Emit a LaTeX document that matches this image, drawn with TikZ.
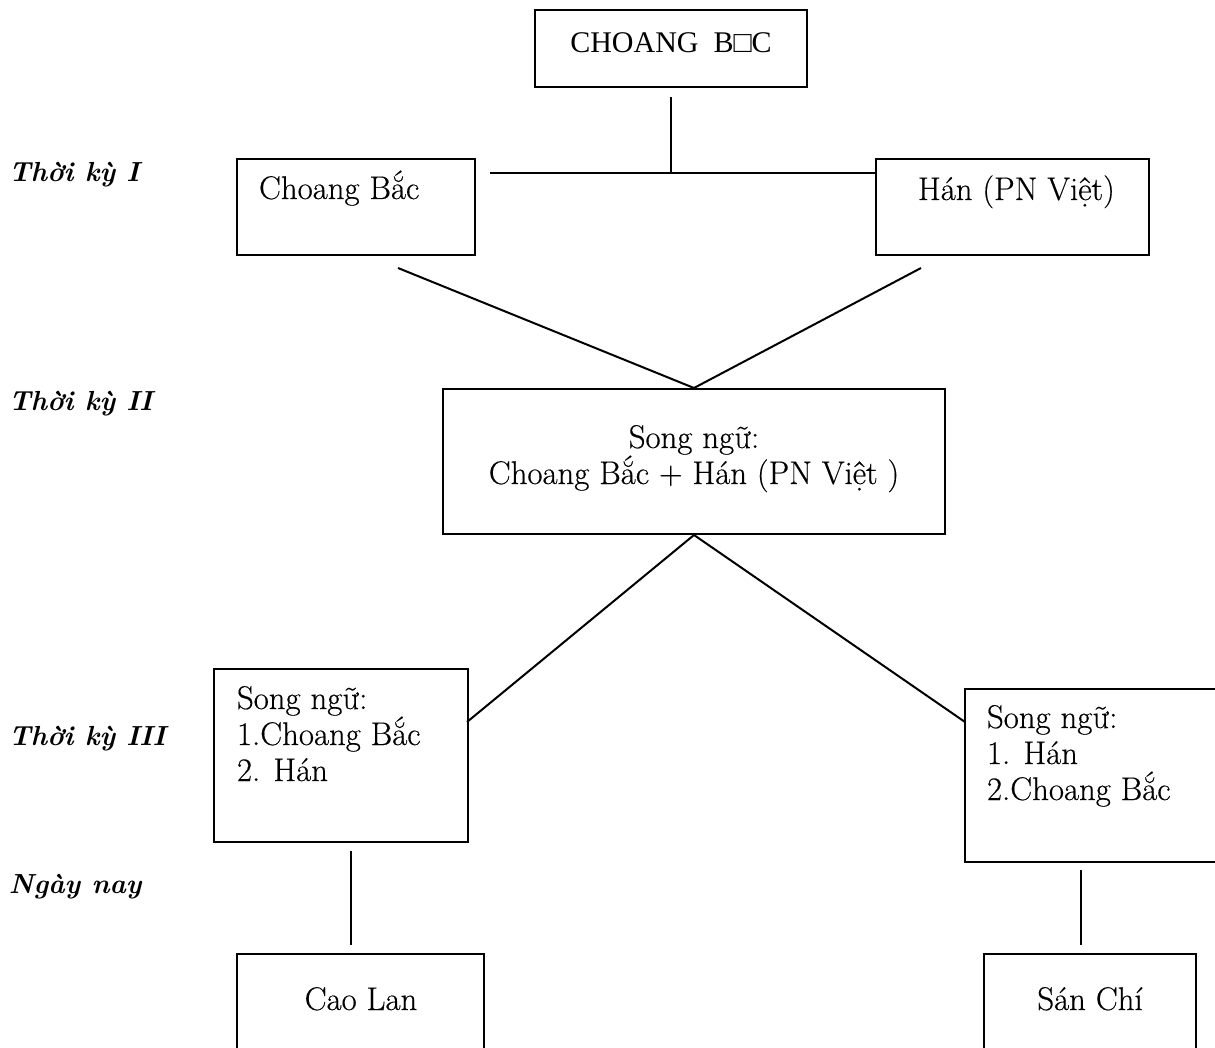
\documentclass[tikz,border=0pt]{standalone}
\usepackage{fontspec}
\newfontfamily\timesfont{Liberation Serif}
\newfontfamily\bodyfont{Latin Modern Roman}[FakeBold=0.4]
\usetikzlibrary{fit}
\begin{document}
\begin{tikzpicture}[x=0.5pt,y=-0.5pt,line width=1pt,
  box/.style={draw,line width=1pt,inner sep=0pt},
  txt/.style={inner sep=0pt,font=\bodyfont\fontsize{16.4}{18}\selectfont},
  mtxt/.style={inner sep=0pt,align=left,font=\bodyfont\fontsize{16.4}{18}\selectfont},
  ttxt/.style={inner sep=0pt,font=\timesfont\fontsize{15}{18}\selectfont},
  lbl/.style={inner sep=0pt,anchor=base west,font=\fontsize{13.8}{18}\selectfont\bfseries\itshape},
  conn/.style={line width=1pt}]
\clip (0,0) rectangle (1215,1048);
\fill[white] (0,0) rectangle (1215,1048);
% boxes
\node[box,fit={(535,10)(807,87)}] (bTop) {};
\node[box,fit={(237,159)(475,255)}] (bCB) {};
\node[box,fit={(876,159)(1149,255)}] (bHan) {};
\node[box,fit={(443,389)(945,534)}] (bMid) {};
\node[box,fit={(214,669)(468,842)}] (bL) {};
\node[box,fit={(965,689)(1240,862)}] (bR) {};
\node[box,fit={(237,954)(484,1080)}] (bCao) {};
\node[box,fit={(984,954)(1196,1080)}] (bSan) {};
% texts
\node[ttxt,anchor=base] (tTop) at (671,53) {CHOANG\ \ B□C};
\node[txt,anchor=base west] (tCB) at (258,199) {Choang Bắc};
\node[txt,anchor=base west] (tHan) at (917,200) {Hán (PN Việt)};
\node[txt,anchor=base] (tMid1) at (694,448) {Song ngữ:};
\node[txt,anchor=base] (tMid2) at (694,484) {Choang Bắc + Hán (PN Việt )};
\node[mtxt,anchor=base west] (tL) at (236,781) {Song ngữ:\\1.Choang Bắc\\2. Hán};
\node[mtxt,anchor=base west] (tR) at (986,800) {Song ngữ:\\1. Hán\\2.Choang Bắc};
\node[txt,anchor=base] (tCao) at (361,1010) {Cao Lan};
\node[txt,anchor=base] (tSan) at (1090,1010) {Sán Chí};
% period labels
\node[lbl] (p1) at (8,182) {Thời kỳ I};
\node[lbl] (p2) at (8,410) {Thời kỳ II};
\node[lbl] (p3) at (8,745) {Thời kỳ III};
\node[lbl] (p4) at (8,893) {Ngày nay};
% connector points
\coordinate (jTop) at (671,97);
\coordinate (jMid) at (671,173);
\coordinate (hL) at (490,173);
\coordinate (cbl) at (398,268);
\coordinate (cbr) at (921,268);
\coordinate (lEnd) at (467,722);
\coordinate (rEnd) at (965,722);
\coordinate (vl1) at (351,851);
\coordinate (vl2) at (351,945);
\coordinate (vr1) at (1081,870);
\coordinate (vr2) at (1081,945);
% connectors
\draw[conn] (jTop) -- (jMid);
\draw[conn] (hL) -- (bHan.west |- jMid);
\draw[conn] (cbl) -- (bMid.north);
\draw[conn] (cbr) -- (bMid.north);
\draw[conn] (bMid.south) -- (lEnd);
\draw[conn] (bMid.south) -- (rEnd);
\draw[conn] (vl1) -- (vl2);
\draw[conn] (vr1) -- (vr2);
\end{tikzpicture}
\end{document}
